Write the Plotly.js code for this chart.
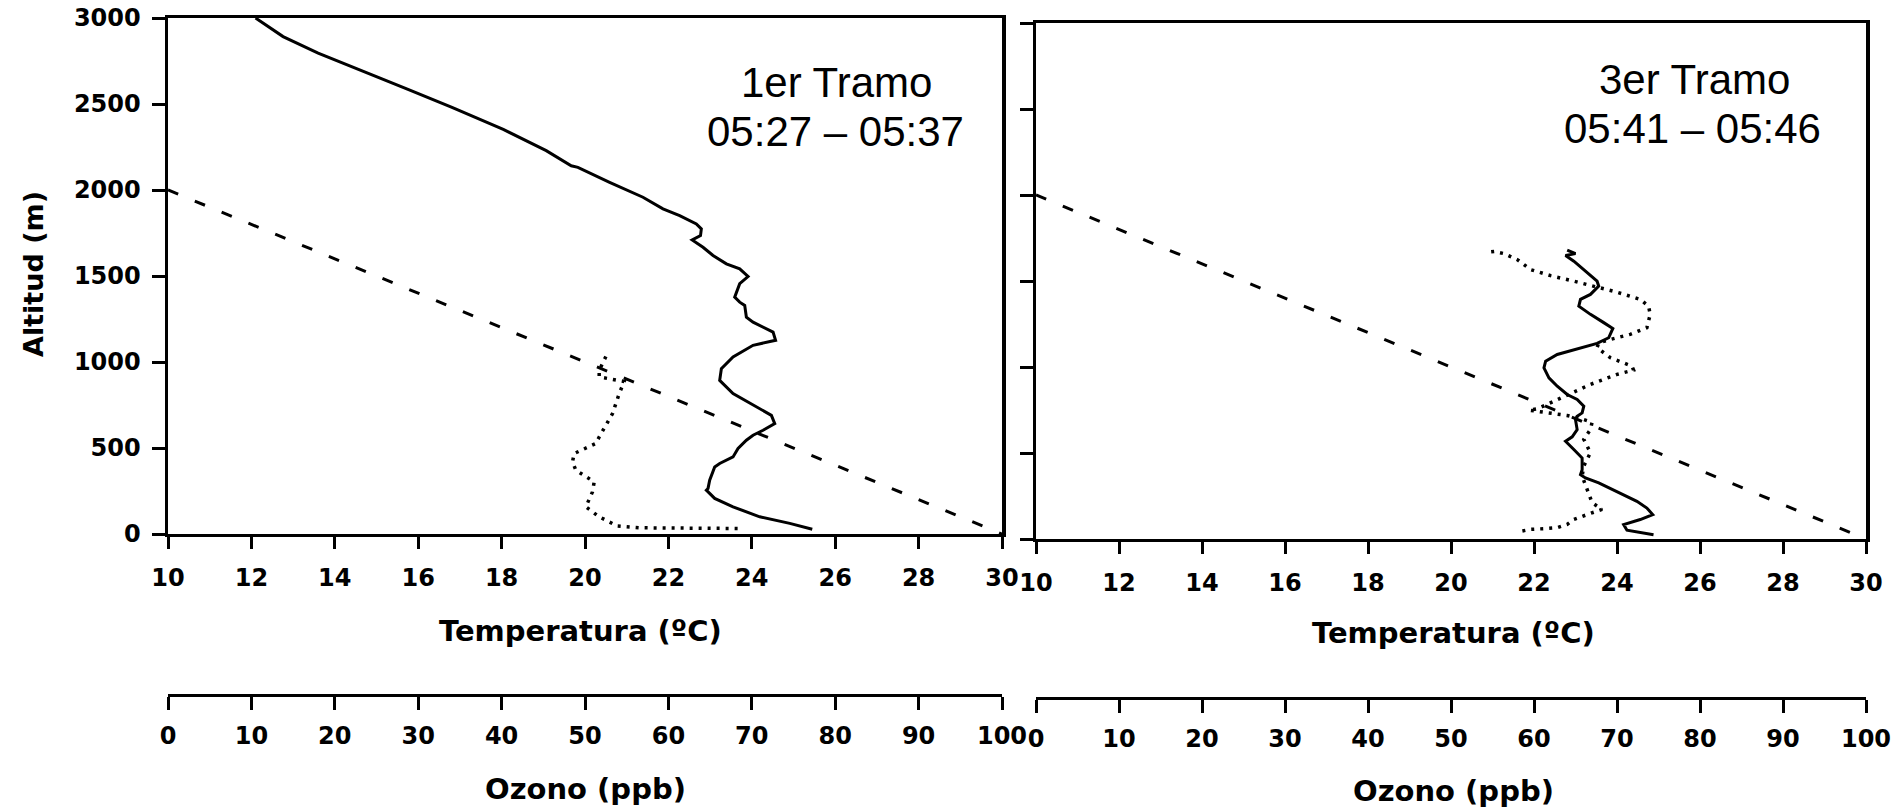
<!DOCTYPE html>
<html>
<head>
<meta charset="utf-8">
<script src="https://cdn.plot.ly/plotly-3.0.1.min.js"></script>
<style>html,body{margin:0;padding:0;background:#fff;}#chart{width:1897px;height:811px;}</style>
</head>
<body>
<div id="chart"></div>
<script>
// ---- Data: 1er Tramo (05:27 - 05:37) ----
var alt1Temp = [28, 62, 100, 158, 207, 255, 265, 313, 390, 410, 448, 497, 545, 574, 603, 642, 690, 748, 816, 893, 961, 1029, 1097, 1126, 1174, 1232, 1261, 1329, 1348, 1377, 1455, 1497, 1542, 1571, 1619, 1667, 1710, 1735, 1774, 1803, 1851, 1890, 1958, 2045, 2132, 2141, 2229, 2352, 2481, 2586, 2706, 2796, 2892, 3000];
var temp1 = [25.45, 24.91, 24.19, 23.55, 23.11, 22.91, 22.95, 22.99, 23.11, 23.23, 23.55, 23.67, 23.87, 24.03, 24.27, 24.55, 24.47, 24.03, 23.55, 23.23, 23.27, 23.55, 24.03, 24.57, 24.51, 24.03, 23.87, 23.83, 23.71, 23.59, 23.71, 23.91, 23.71, 23.39, 23.07, 22.83, 22.57, 22.77, 22.79, 22.67, 22.27, 21.87, 21.39, 20.59, 19.83, 19.67, 19.07, 18.04, 16.81, 15.74, 14.52, 13.6, 12.76, 12.1];
var alt1Ozone = [32, 36, 46, 100, 158, 245, 303, 371, 419, 468, 526, 564, 700, 816, 887, 903, 913, 951, 1052];
var ozone1 = [68.3, 56.5, 53.9, 51.7, 50.1, 50.9, 51.1, 48.9, 48.5, 48.7, 51.3, 51.7, 53.3, 54.1, 54.7, 52.5, 51.7, 51.7, 52.7];

// ---- Data: 3er Tramo (05:41 - 05:46) ----
var alt3Temp = [25, 51, 84, 113, 142, 180, 219, 277, 326, 355, 374, 403, 471, 520, 568, 594, 636, 694, 714, 733, 772, 811, 840, 888, 937, 995, 1034, 1073, 1105, 1137, 1170, 1224, 1258, 1306, 1354, 1393, 1422, 1470, 1499, 1547, 1615, 1648, 1659, 1679];
var temp3 = [24.88, 24.24, 24.16, 24.56, 24.86, 24.72, 24.48, 24.0, 23.56, 23.24, 23.12, 23.16, 23.16, 22.96, 22.76, 22.92, 23.04, 23.0, 23.04, 23.16, 23.2, 23.04, 22.8, 22.56, 22.36, 22.24, 22.28, 22.56, 23.04, 23.52, 23.8, 23.9, 23.68, 23.36, 23.08, 23.12, 23.36, 23.56, 23.52, 23.28, 22.96, 22.76, 23.0, 22.8];
var alt3Ozone = [47, 56, 60, 66, 85, 114, 149, 172, 211, 289, 366, 424, 502, 579, 637, 679, 694, 718, 733, 749, 757, 783, 816, 860, 899, 957, 982, 1005, 1054, 1112, 1141, 1160, 1190, 1228, 1306, 1354, 1393, 1435, 1466, 1499, 1531, 1566, 1624, 1659, 1672, 1667];
var ozone3 = [58.6, 59.6, 61.2, 62.8, 64, 64.8, 66.8, 68.2, 67, 66.4, 65.8, 66, 66.8, 66, 66.8, 67, 66, 64, 62, 59.4, 60.4, 61.6, 63.2, 65.2, 66.8, 70, 72, 71.8, 69.2, 67.6, 67.8, 69.2, 71.6, 73.6, 74, 73.8, 72.8, 70, 67.6, 64.8, 62, 59.6, 58, 56.4, 55.2, 54.2];

// Reference (dashed) line
var refTemp = [10, 30];
var refAlt = [2000, 0];

// Tick labels
var tempTicks = [10, 12, 14, 16, 18, 20, 22, 24, 26, 28, 30];
var ozoneTicks = [0, 10, 20, 30, 40, 50, 60, 70, 80, 90, 100];
var altTicks = [0, 500, 1000, 1500, 2000, 2500, 3000];

var panelTitles = [["1er Tramo", "05:27 \u2013 05:37"], ["3er Tramo", "05:41 \u2013 05:46"]];
var xTitle = "Temperatura (\u00baC)";
var ozTitle = "Ozono (ppb)";
var yTitle = "Altitud (m)";

// ---- Layout geometry (pixels) ----
var W = 1897, H = 811;
function px(x) { return x / W; }
function py(y) { return 1 - y / H; }

var solid = {color: '#000', width: 3};
var dotted = {color: '#000', width: 3.5, dash: '3px,6px'};
var dashed = {color: '#000', width: 3, dash: '11px,18px'};

var traces = [
  {x: temp1, y: alt1Temp, xaxis: 'x', yaxis: 'y', mode: 'lines', line: solid, hoverinfo: 'skip'},
  {x: ozone1, y: alt1Ozone, xaxis: 'x3', yaxis: 'y', mode: 'lines', line: dotted, hoverinfo: 'skip'},
  {x: refTemp, y: refAlt, xaxis: 'x', yaxis: 'y', mode: 'lines', line: dashed, hoverinfo: 'skip'},
  {x: temp3, y: alt3Temp, xaxis: 'x2', yaxis: 'y2', mode: 'lines', line: solid, hoverinfo: 'skip'},
  {x: ozone3, y: alt3Ozone, xaxis: 'x4', yaxis: 'y2', mode: 'lines', line: dotted, hoverinfo: 'skip'},
  {x: refTemp, y: refAlt, xaxis: 'x2', yaxis: 'y2', mode: 'lines', line: dashed, hoverinfo: 'skip'}
];

var tickFont = {family: 'DejaVu Sans', size: 24, color: '#000', weight: 'bold'};
var titleFont = {family: 'DejaVu Sans', size: 29, color: '#000', weight: 'bold'};
var labelFont = {family: 'Liberation Sans, Arial', size: 42, color: '#000'};

function tempAxis(domain, anchor) {
  return {domain: domain, anchor: anchor, range: [10, 30], tickvals: tempTicks, ticktext: tempTicks.map(String),
    ticks: 'outside', ticklen: 12, tickwidth: 3, tickcolor: '#000', showline: true, linewidth: 3, linecolor: '#000',
    mirror: true, showgrid: false, zeroline: false, tickfont: tickFont, ticklabelstandoff: 8, fixedrange: true};
}
function altAxis(domain, anchor, showLabels) {
  return {domain: domain, anchor: anchor, range: [0, 3000], tickvals: altTicks, ticktext: altTicks.map(String),
    showticklabels: showLabels, ticks: 'outside', ticklen: 13, tickwidth: 3, tickcolor: '#000', showline: true,
    linewidth: 3.5, linecolor: '#000', mirror: true, showgrid: false, zeroline: false, tickfont: tickFont,
    ticklabelstandoff: 6, fixedrange: true};
}
function ozoneAxis(over, pos) {
  return {overlaying: over, anchor: 'free', position: pos, side: 'bottom', range: [0, 100], tickvals: ozoneTicks,
    ticktext: ozoneTicks.map(String), ticks: 'outside', ticklen: 13, tickwidth: 3, tickcolor: '#000',
    showline: true, linewidth: 3, linecolor: '#000', showgrid: false, zeroline: false, tickfont: tickFont,
    ticklabelstandoff: 5, fixedrange: true};
}

var layout = {
  width: W, height: H, margin: {l: 0, r: 0, t: 0, b: 0},
  paper_bgcolor: '#fff', plot_bgcolor: 'rgba(0,0,0,0)', showlegend: false,
  xaxis: tempAxis([px(168), px(1002)], 'y'),
  yaxis: altAxis([py(534), py(18)], 'x', true),
  xaxis2: tempAxis([px(1036), px(1866)], 'y2'),
  yaxis2: altAxis([py(539), py(23)], 'x2', false),
  xaxis3: ozoneAxis('x', py(695)),
  xaxis4: ozoneAxis('x2', py(698)),
  annotations: [
    {text: panelTitles[0][0], x: px(836), y: py(82), xref: 'paper', yref: 'paper', showarrow: false, font: labelFont, xanchor: 'center', yanchor: 'middle'},
    {text: panelTitles[0][1], x: px(835), y: py(131), xref: 'paper', yref: 'paper', showarrow: false, font: labelFont, xanchor: 'center', yanchor: 'middle'},
    {text: panelTitles[1][0], x: px(1694), y: py(80), xref: 'paper', yref: 'paper', showarrow: false, font: labelFont, xanchor: 'center', yanchor: 'middle'},
    {text: panelTitles[1][1], x: px(1692), y: py(129), xref: 'paper', yref: 'paper', showarrow: false, font: labelFont, xanchor: 'center', yanchor: 'middle'},
    {text: xTitle, x: px(580), y: py(631), xref: 'paper', yref: 'paper', showarrow: false, font: titleFont, xanchor: 'center', yanchor: 'middle'},
    {text: xTitle, x: px(1453), y: py(633), xref: 'paper', yref: 'paper', showarrow: false, font: titleFont, xanchor: 'center', yanchor: 'middle'},
    {text: ozTitle, x: px(585), y: py(789), xref: 'paper', yref: 'paper', showarrow: false, font: titleFont, xanchor: 'center', yanchor: 'middle'},
    {text: ozTitle, x: px(1453), y: py(791), xref: 'paper', yref: 'paper', showarrow: false, font: titleFont, xanchor: 'center', yanchor: 'middle'},
    {text: yTitle, x: px(33), y: py(274), xref: 'paper', yref: 'paper', showarrow: false, font: {family: 'DejaVu Sans', size: 27, color: '#000', weight: 'bold'}, textangle: -90, xanchor: 'center', yanchor: 'middle'}
  ]
};

Plotly.newPlot('chart', traces, layout, {staticPlot: true, displayModeBar: false});
</script>
</body>
</html>
